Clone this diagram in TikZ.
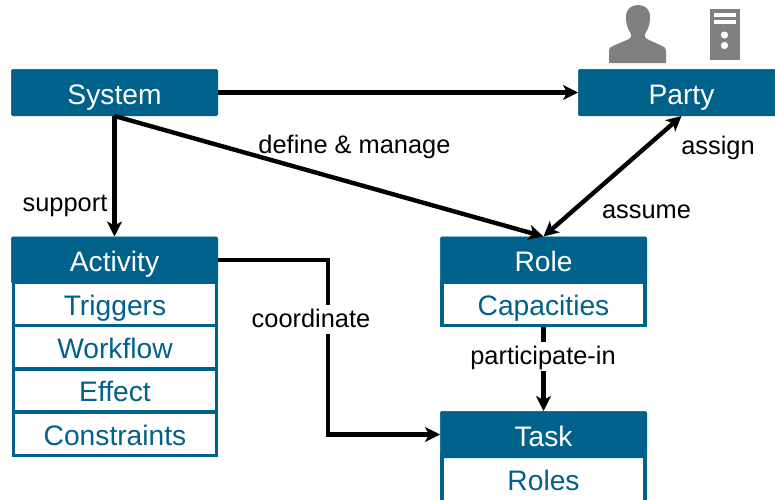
\documentclass[tikz,border=0pt]{standalone}
\usepackage{fontspec}
\setmainfont{Liberation Sans}
\usetikzlibrary{arrows.meta}
\definecolor{tealblue}{HTML}{00618A}
\definecolor{icongray}{HTML}{808080}
\tikzset{
  x=1pt,y=-1pt,
  header/.style={rectangle,fill=tealblue,draw=tealblue,line width=0.5pt,rounded corners=1.5pt,inner sep=0pt,
    minimum width=206.5pt,minimum height=46.5pt,text=white,font=\fontsize{28.2}{30}\selectfont,text height=23pt,text depth=0pt},
  rowbox/.style={rectangle,fill=white,draw=tealblue,line width=3.5pt,inner sep=0pt,
    minimum width=203pt,text=tealblue,font=\fontsize{28.2}{30}\selectfont,text height=22pt,text depth=0pt},
  conn/.style={draw=black,line width=4.4pt,-{Stealth[length=15pt,width=15pt,inset=4pt]}},
  connboth/.style={draw=black,line width=4.4pt,{Stealth[length=15pt,width=15pt,inset=4pt]}-{Stealth[length=15pt,width=15pt,inset=4pt]}},
  lab/.style={text=black,font=\fontsize{25.4}{28}\selectfont,inner sep=1pt,text height=22pt,text depth=5pt},
  labfill/.style={lab,fill=white,inner sep=1pt},
}
\begin{document}
\begin{tikzpicture}
\path[use as bounding box] (0,0) rectangle (775,499);
% icons
\fill[icongray] (609,63) -- (609,50) .. controls (609.5,47.5) and (611,46.5) .. (614,45.5) -- (628,39.5) .. controls (631,38) and (632,36) .. (630.5,33) .. controls (627,28) and (626,23) .. (626,17) .. controls (626,9) and (631,5) .. (638,5) .. controls (645,5) and (650,9) .. (650,17) .. controls (650,23) and (649,28) .. (645.5,33) .. controls (644,36) and (645,38) .. (648,39.5) -- (661,45.5) .. controls (664,46.5) and (665.5,47.5) .. (666,50) -- (666,63) -- cycle;
\fill[icongray] (710,9) rectangle (740,60);
\fill[white] (714,13) rectangle (736,16.5);
\fill[white] (714,20) rectangle (736,24);
\fill[white] (724.5,35) circle (3.6);
\fill[white] (724.5,45.5) circle (3.6);
% boxes
\node[header] (system) at (114.5,92.5) {System};
\node[header] (party) at (681.5,92.5) {Party};
\node[rowbox,minimum height=43pt] (triggers) at (115,304) {Triggers};
\node[rowbox,minimum height=43pt] (workflow) at (115,347) {Workflow};
\node[rowbox,minimum height=43pt] (effect) at (115,390.5) {Effect};
\node[rowbox,minimum height=43pt] (constraints) at (115,434) {Constraints};
\node[header] (activity) at (114.5,260) {Activity};
\node[rowbox,minimum height=43pt] (capacities) at (543.5,304) {Capacities};
\node[header] (role) at (543.5,260) {Role};
\node[rowbox,minimum height=46pt] (roles) at (543.5,479) {Roles};
\node[header] (task) at (543.5,434.5) {Task};
% connector bends
\coordinate (bendA) at (328,260);
\coordinate (bendB) at (328,434.5);
% connectors
\draw[conn] (system.east) -- (party.west);
\draw[conn] (system.south) -- (activity.north);
\draw[conn] (system.south) -- (role.north);
\draw[connboth] (party.south) -- (role.north);
\draw[conn] (capacities.south) -- (task.north);
\draw[conn,line join=miter] (activity.east) -- (bendA) -- (bendB) -- (task.west);
% labels
\node[lab] (lsupport) at (65,203) {support};
\node[lab] (ldefine) at (354.5,145) {define \& manage};
\node[lab] (lassign) at (718,146) {assign};
\node[lab] (lassume) at (646.5,210) {assume};
\node[labfill] (lcoord) at (311,319) {coordinate};
\node[labfill] (lpart) at (543,356) {participate-in};
\end{tikzpicture}
\end{document}
